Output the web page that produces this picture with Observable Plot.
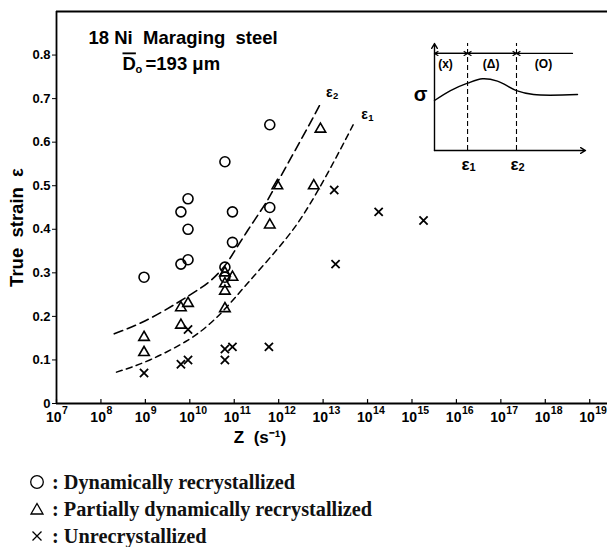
<!DOCTYPE html>
<html><head><meta charset="utf-8">
<script src="https://cdn.jsdelivr.net/npm/d3@7"></script>
<script src="https://cdn.jsdelivr.net/npm/@observablehq/plot@0.6"></script>
<style>
body{margin:0;background:#fff;width:607px;height:547px;overflow:hidden;position:relative;}
#chart{position:absolute;left:0;top:0;}
#inset{position:absolute;left:405px;top:35px;}
#legend{position:absolute;left:0;top:0;font-family:"Liberation Serif",serif;font-weight:bold;font-size:20.3px;color:#111;}
.row{position:absolute;left:29px;height:26px;line-height:26px;white-space:nowrap;display:flex;align-items:center;}
.row svg{margin-right:7px;}
.dbar text{text-decoration:overline;}
</style></head><body>
<div id="chart"></div><div id="inset"></div><div id="legend"></div>
<script>
// ---------- data ----------
// log10(Z) and true strain for each structure class
const recrystLogZ   = [8.97, 9.80, 9.96, 9.96, 9.80, 9.96, 10.79, 10.79, 10.96, 10.96, 10.79, 11.80, 11.80];
const recrystStrain = [0.29, 0.32, 0.33, 0.40, 0.44, 0.47, 0.313, 0.29, 0.37, 0.44, 0.555, 0.45, 0.64];

const partialLogZ   = [8.97, 8.97, 9.80, 9.80, 9.96, 10.79, 10.79, 10.79, 10.79, 10.96, 11.80, 11.97, 12.79, 12.94];
const partialStrain = [0.152, 0.117, 0.22, 0.18, 0.23, 0.30, 0.275, 0.258, 0.218, 0.29, 0.41, 0.50, 0.50, 0.63];

const unrecLogZ     = [8.97, 9.80, 9.96, 9.96, 10.79, 10.79, 10.96, 11.78, 13.25, 13.28, 14.25, 15.26];
const unrecStrain   = [0.07, 0.09, 0.10, 0.17, 0.125, 0.10, 0.13, 0.13, 0.49, 0.32, 0.44, 0.42];

// boundary curves
const eps2LogZ   = [8.3, 9.0, 9.7, 10.2, 10.5, 10.8, 11.1, 11.45, 11.75, 12.0, 12.5, 12.95];
const eps2Strain = [0.16, 0.19, 0.23, 0.262, 0.285, 0.318, 0.365, 0.42, 0.467, 0.513, 0.605, 0.69];
const eps1LogZ   = [8.35, 9.1, 9.95, 10.45, 10.8, 11.3, 12.0, 12.5, 13.0, 13.5, 13.7];
const eps1Strain = [0.072, 0.10, 0.145, 0.183, 0.218, 0.276, 0.358, 0.425, 0.51, 0.605, 0.645];

// axes
const xTickExps = [7, 8, 9, 10, 11, 12, 13, 14, 15, 16, 17, 18, 19];
const yTicks = [0, 0.1, 0.2, 0.3, 0.4, 0.5, 0.6, 0.7, 0.8];

// inset schematic (flow curve)
const insetStrain = [0, 1.06, 2.19, 3.18, 4.17, 5.43, 6.56, 9.47];
const insetStress = [4.67, 5.6, 6.29, 6.7, 6.48, 5.6, 5.23, 5.23];
const insetCrit = [2.19, 5.43];
const insetCritSub = ["1", "2"];
const regionLabels = ["(x)", "(Δ)", "(O)"];
const regionPos = [0.73, 3.75, 7.22];

// legend
const legendLabels = ["Dynamically recrystallized", "Partially dynamically recrystallized", "Unrecrystallized"];

// ---------- build ----------
const pts = (lz, s) => lz.map((e, i) => ({z: 10 ** e, s: s[i]}));
const recryst = pts(recrystLogZ, recrystStrain);
const partial = pts(partialLogZ, partialStrain);
const unrec = pts(unrecLogZ, unrecStrain);
const eps2 = pts(eps2LogZ, eps2Strain);
const eps1 = pts(eps1LogZ, eps1Strain);
const end2 = [eps2[eps2.length - 1]];
const end1 = [eps1[eps1.length - 1]];

const F = "Liberation Sans, Arial, sans-serif";
const B = {fontWeight: "bold"};

const chart = Plot.plot({
  width: 607, height: 447,
  marginLeft: 56, marginRight: 0, marginTop: 11, marginBottom: 44,
  x: {type: "log", domain: [1e7, 10 ** 19.4], axis: null},
  y: {domain: [0, 0.9]},
  style: {fontFamily: F, background: "white", color: "black", overflow: "visible"},
  marks: [
    Plot.ruleY([0, 0.9], {stroke: "black", strokeWidth: 1.8}),
    Plot.ruleX([1e7], {stroke: "black", strokeWidth: 1.8}),
    Plot.ruleX(xTickExps.map(e => 10 ** e), {y1: 0, y2: 0.009, stroke: "black", strokeWidth: 1.2}),
    Plot.axisY({ticks: yTicks, tickSize: 4, tickPadding: 2, label: null,
      tickFormat: d => d === 0 ? "0" : d.toFixed(1), fontSize: 13, ...B}),
    Plot.text(xTickExps, {x: e => 10 ** e, frameAnchor: "bottom", text: () => "10",
      textAnchor: "end", lineAnchor: "middle", dx: 5, dy: 14, fontSize: 14, ...B}),
    Plot.text(xTickExps, {x: e => 10 ** e, frameAnchor: "bottom", text: e => String(e),
      textAnchor: "start", lineAnchor: "middle", dx: 5.5, dy: 7, fontSize: 10.5, ...B}),
    Plot.text(["Z  (s⁻¹)"], {frameAnchor: "bottom", dx: -72, dy: 34, fontSize: 17, lineAnchor: "middle", ...B}),
    Plot.text(["True  strain  ε"], {frameAnchor: "left", rotate: -90, dx: -39, dy: 20,
      fontSize: 18.5, textAnchor: "middle", lineAnchor: "middle", ...B}),
    Plot.text(["18 Ni  Maraging  steel"], {frameAnchor: "top-left", dx: 32, dy: 27,
      textAnchor: "start", lineAnchor: "middle", fontSize: 18.5, ...B}),
    Plot.text(["D"], {frameAnchor: "top-left", dx: 66, dy: 53, className: "dbar",
      textAnchor: "start", lineAnchor: "middle", fontSize: 18.5, ...B}),
    Plot.text(["o"], {frameAnchor: "top-left", dx: 79, dy: 58,
      textAnchor: "start", lineAnchor: "middle", fontSize: 11, ...B}),
    Plot.text(["=193 μm"], {frameAnchor: "top-left", dx: 89, dy: 53,
      textAnchor: "start", lineAnchor: "middle", fontSize: 18.5, ...B}),
    Plot.line(eps2, {x: "z", y: "s", curve: "natural", stroke: "black", strokeWidth: 1.6, strokeDasharray: "9,5"}),
    Plot.line(eps1, {x: "z", y: "s", curve: "natural", stroke: "black", strokeWidth: 1.5, strokeDasharray: "6,4.5"}),
    Plot.text(end2, {x: "z", y: "s", text: () => "ε", dx: 5, dy: -10, textAnchor: "start", fontSize: 14, ...B}),
    Plot.text(end2, {x: "z", y: "s", text: () => "2", dx: 12, dy: -7, textAnchor: "start", fontSize: 9.5, ...B}),
    Plot.text(end1, {x: "z", y: "s", text: () => "ε", dx: 7, dy: -8, textAnchor: "start", fontSize: 14, ...B}),
    Plot.text(end1, {x: "z", y: "s", text: () => "1", dx: 14, dy: -5, textAnchor: "start", fontSize: 9.5, ...B}),
    Plot.dot(recryst, {x: "z", y: "s", r: 5, stroke: "black", strokeWidth: 1.6, fill: "none"}),
    Plot.dot(partial, {x: "z", y: "s", r: 3.9, symbol: "triangle", stroke: "black", strokeWidth: 1.6, fill: "none"}),
    Plot.dot(unrec, {x: "z", y: "s", r: 3.8, symbol: "times", stroke: "black", strokeWidth: 1.8})
  ]
});
document.getElementById("chart").append(chart);

// ---------- inset ----------
const topY = 9.07;
const segs = [
  {x1: insetCrit[0], x2: 0}, {x1: 0, x2: insetCrit[0]},
  {x1: insetCrit[1], x2: insetCrit[0]}, {x1: insetCrit[0], x2: insetCrit[1]},
  {x1: 9.14, x2: insetCrit[1]}
];
const inset = Plot.plot({
  width: 195, height: 140,
  marginLeft: 29, marginRight: 15, marginTop: 8, marginBottom: 25,
  x: {domain: [0, 10], axis: null}, y: {domain: [0, 10], axis: null},
  style: {fontFamily: F, background: "transparent", color: "black", overflow: "visible"},
  marks: [
    Plot.arrow([{x1: 0, y1: 0, x2: 0, y2: 10}, {x1: 0, y1: 0, x2: 10, y2: 0}],
      {x1: "x1", y1: "y1", x2: "x2", y2: "y2", headLength: 6, strokeWidth: 1.4, stroke: "black"}),
    Plot.arrow(segs, {x1: "x1", x2: "x2", y1: topY, y2: topY, headLength: 5, strokeWidth: 1.2, stroke: "black"}),
    Plot.ruleX(insetCrit, {y1: 0, y2: 10, strokeDasharray: "5,3", stroke: "black", strokeWidth: 1.1}),
    Plot.line(insetStrain.map((x, i) => ({x, y: insetStress[i]})), {x: "x", y: "y", curve: "catmull-rom", stroke: "black", strokeWidth: 1.4}),
    Plot.text(regionLabels, {x: (d, i) => regionPos[i], y: 8.1, fontSize: 12, ...B}),
    Plot.text(insetCrit, {x: d => d, y: 0, text: () => "ε", dy: 14, dx: -2, fontSize: 17, ...B}),
    Plot.text(insetCrit, {x: d => d, y: 0, text: (d, i) => insetCritSub[i], dy: 17, dx: 5, fontSize: 11, ...B}),
    Plot.text(["σ"], {x: 0, y: 5, dx: -14, dy: -2, fontSize: 20, ...B})
  ]
});
document.getElementById("inset").append(inset);

// ---------- legend ----------
const symbols = [
  '<circle cx="8" cy="8" r="6.3" fill="none" stroke="black" stroke-width="1.3"/>',
  '<path d="M8,2.5 L14,13 L2,13 Z" fill="none" stroke="black" stroke-width="1.3"/>',
  '<path d="M3.5,3.5 L12.5,12.5 M12.5,3.5 L3.5,12.5" stroke="black" stroke-width="1.3"/>'
];
const legend = document.getElementById("legend");
legendLabels.forEach((lab, i) => {
  const row = document.createElement("div");
  row.className = "row";
  row.style.top = (469 + i * 27) + "px";
  row.innerHTML = `<svg width="16" height="16">${symbols[i]}</svg><span>: ${lab}</span>`;
  legend.append(row);
});
</script>
</body></html>
